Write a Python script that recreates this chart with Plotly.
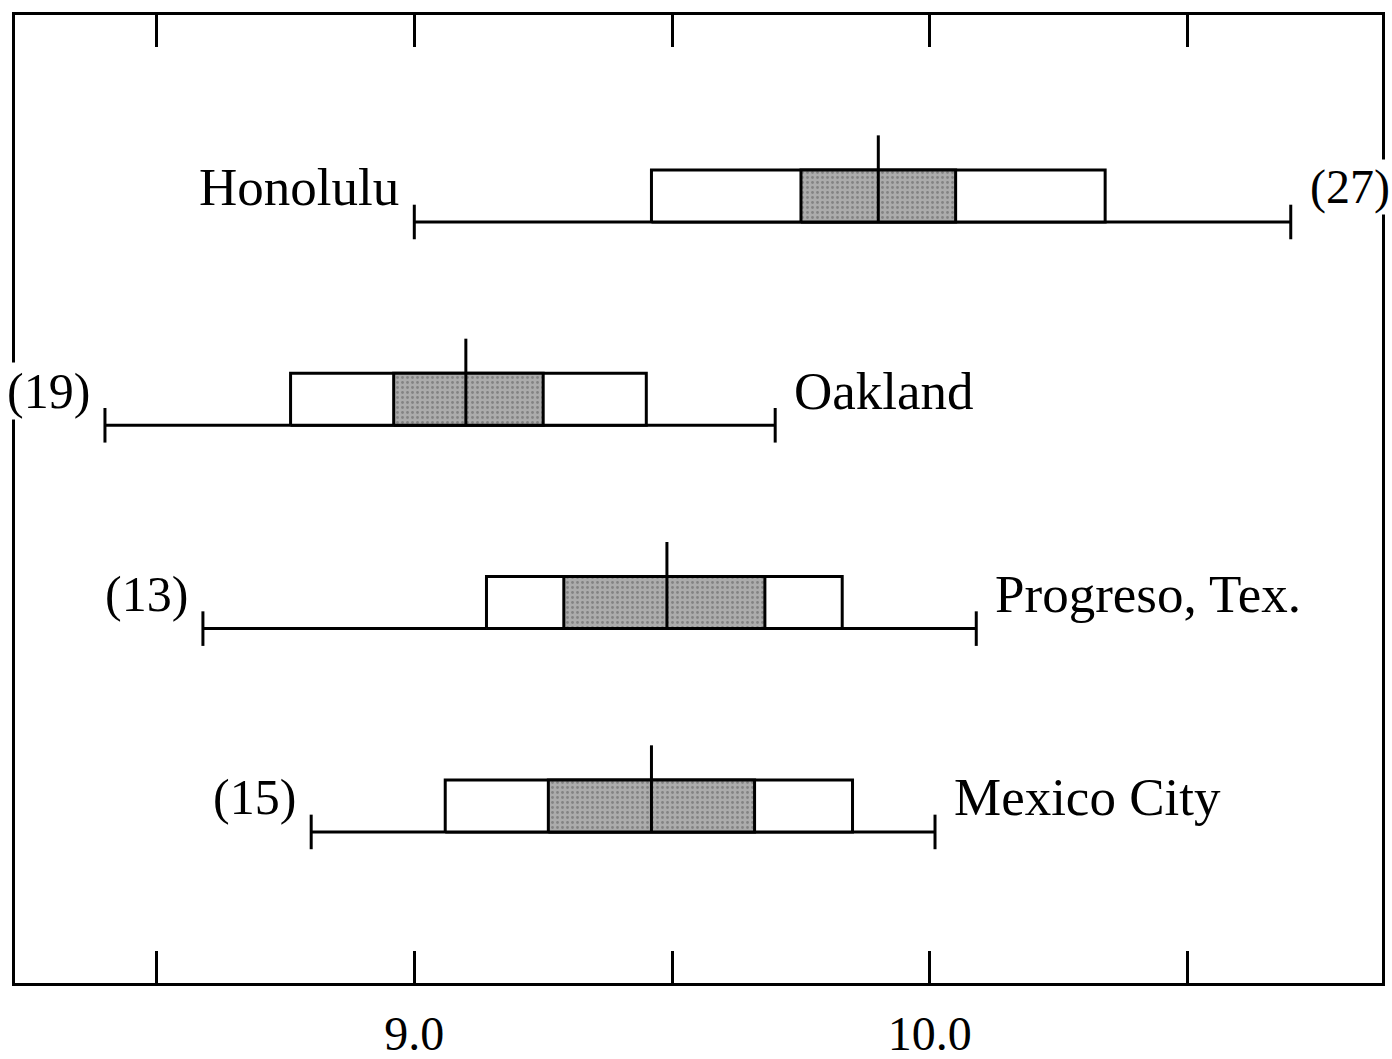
import plotly.graph_objects as go

# ---- data ----
cities = ["Honolulu", "Oakland", "Progreso, Tex.", "Mexico City"]
counts = ["(27)", "(19)", "(13)", "(15)"]
# name label on the left (True) or on the right (False) of the whisker
name_left = [True, False, False, False]
whisker_low = [9.00, 8.40, 8.59, 8.80]
box_low = [9.46, 8.76, 9.14, 9.06]
shade_low = [9.75, 8.96, 9.29, 9.26]
center = [9.90, 9.10, 9.49, 9.46]
shade_high = [10.05, 9.25, 9.68, 9.66]
box_high = [10.34, 9.45, 9.83, 9.85]
whisker_high = [10.70, 9.70, 10.09, 10.01]

tick_vals = [8.5, 9.0, 9.5, 10.0, 10.5]
tick_text = ["", "9.0", "", "10.0", ""]

# ---- styling ----
FONT = "Liberation Serif, Times New Roman, serif"
BOX_H = 0.256       # box height in row units
STEM = 0.17         # how far the centre line rises above the box
CAP = 0.085         # half-length of whisker caps
LW = 3
NAME_SIZE = 53
COUNT_SIZE = 50

fig = go.Figure()

for i, name in enumerate(cities):
    y0 = i
    y1 = i - BOX_H
    # whisker
    fig.add_trace(go.Scatter(x=[whisker_low[i], whisker_high[i]], y=[y0, y0], mode="lines",
                             line=dict(color="black", width=LW), hoverinfo="skip"))
    for wx in (whisker_low[i], whisker_high[i]):
        fig.add_trace(go.Scatter(x=[wx, wx], y=[y0 - CAP, y0 + CAP], mode="lines",
                                 line=dict(color="black", width=LW), hoverinfo="skip"))
    # white quartile box
    fig.add_trace(go.Scatter(x=[box_low[i], box_high[i], box_high[i], box_low[i], box_low[i]],
                             y=[y0, y0, y1, y1, y0], mode="lines", fill="toself",
                             fillcolor="white", line=dict(color="black", width=LW),
                             hoverinfo="skip"))
    # shaded inner box
    fig.add_trace(go.Scatter(x=[shade_low[i], shade_high[i], shade_high[i], shade_low[i], shade_low[i]],
                             y=[y0, y0, y1, y1, y0], mode="lines", fill="toself",
                             fillcolor="#a8a8a8",
                             fillpattern=dict(shape=".", bgcolor="#acacac", fgcolor="#5a5a5a",
                                              size=5, solidity=0.25),
                             line=dict(color="black", width=LW), hoverinfo="skip"))
    # centre line
    fig.add_trace(go.Scatter(x=[center[i], center[i]], y=[y0, y1 - STEM], mode="lines",
                             line=dict(color="black", width=LW), hoverinfo="skip"))

    # labels
    left_text = name if name_left[i] else counts[i]
    right_text = counts[i] if name_left[i] else name
    left_size = NAME_SIZE if name_left[i] else COUNT_SIZE
    right_size = 48 if name_left[i] else NAME_SIZE
    fig.add_annotation(x=whisker_low[i], y=i - 0.17, xref="x", yref="y",
                       text=left_text, showarrow=False, xanchor="right", yanchor="middle",
                       xshift=-14, bgcolor="white", borderpad=0,
                       font=dict(family=FONT, size=left_size, color="black"))
    fig.add_annotation(x=whisker_high[i], y=i - 0.17, xref="x", yref="y",
                       text=right_text, showarrow=False, xanchor="left", yanchor="middle",
                       xshift=18, bgcolor="white", borderpad=0,
                       font=dict(family=FONT, size=right_size, color="black"))

fig.update_layout(
    width=1392, height=1059,
    margin=dict(l=15, r=10, t=15, b=76, autoexpand=False),
    paper_bgcolor="white", plot_bgcolor="white",
    showlegend=False,
    xaxis=dict(range=[8.2255, 10.877], tickvals=tick_vals, ticktext=tick_text,
               ticks="inside", ticklen=32, tickwidth=3, tickcolor="black",
               showline=True, linecolor="black", linewidth=3, mirror="ticks",
               showgrid=False, zeroline=False, ticklabelstandoff=6, automargin=False,
               tickfont=dict(family=FONT, size=48, color="black")),
    yaxis=dict(range=[3.743, -1.018], showticklabels=False, ticks="",
               showline=True, linecolor="black", linewidth=3, mirror=True,
               showgrid=False, zeroline=False, automargin=False),
)

fig.write_html(
    "out.html",
    config={"displayModeBar": False},
    post_script="document.body.style.margin='0';document.body.style.overflow='hidden';",
)
